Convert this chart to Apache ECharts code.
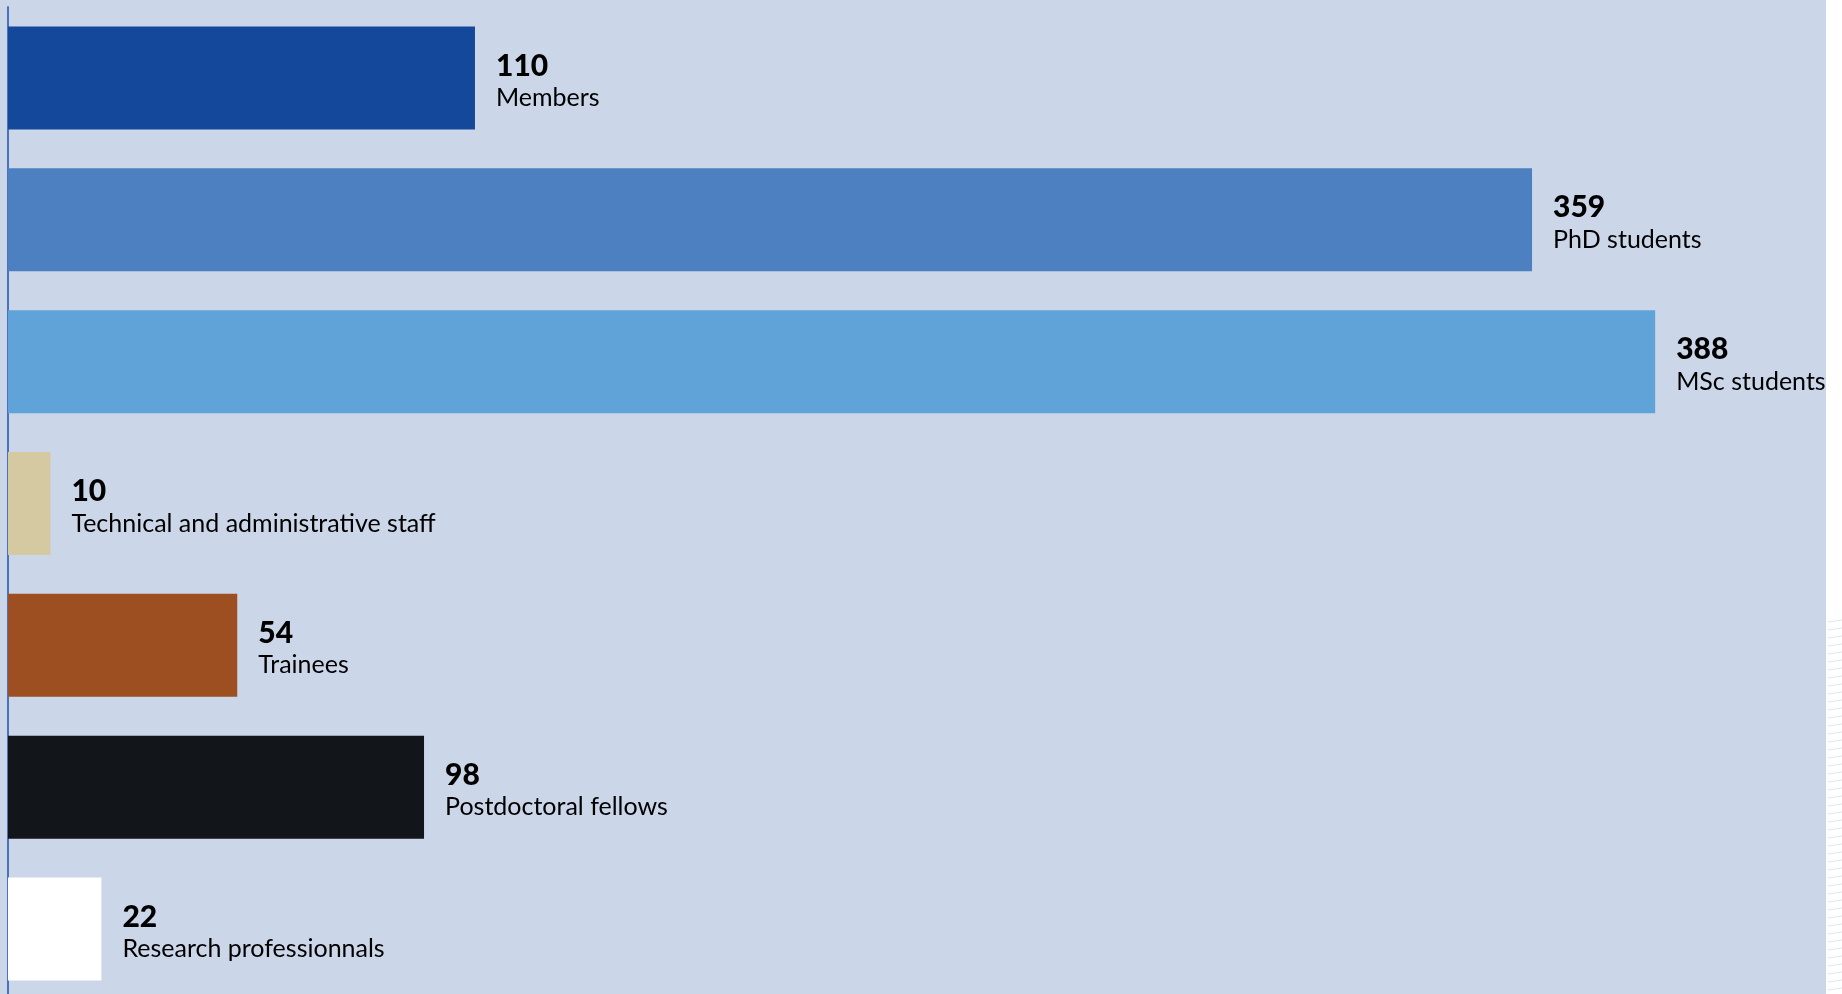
<!DOCTYPE html>
<html>
<head>
<meta charset="utf-8">
<style>
  html, body { margin: 0; padding: 0; background: #ffffff; }
  #chart { width: 1842px; height: 994px; }
</style>
<script src="https://cdn.jsdelivr.net/npm/echarts@6/dist/echarts.min.js"></script>
</head>
<body>
<div id="chart"></div>
<script>
var categories = ['Members', 'PhD students', 'MSc students', 'Technical and administrative staff',
  'Trainees', 'Postdoctoral fellows', 'Research professionnals'];
var counts = [110, 359, 388, 10, 54, 98, 22];
var barColors = ['#14489a', '#4c80c1', '#5fa3d9', '#d5c9a1', '#9e4f22', '#121519', '#ffffff'];

var chart = echarts.init(document.getElementById('chart'));

// faint hatch in the white strip on the right edge
var hatch = [];
for (var y = 622; y < 994; y += 8) {
  hatch.push({
    type: 'line',
    silent: true,
    shape: { x1: 1828, y1: y, x2: 1842, y2: y - 2 },
    style: { stroke: '#dfe5ee', lineWidth: 1 }
  });
}

var options = {
  backgroundColor: '#ffffff',
  animation: false,
  graphic: [
    {
      type: 'rect',
      z: -10,
      silent: true,
      shape: { x: 0, y: 0, width: 1826, height: 994 },
      style: { fill: '#cbd6e8' }
    }
  ].concat(hatch),
  grid: { left: 8, right: 51, top: 7, height: 993, outerBoundsMode: 'none' },
  xAxis: {
    type: 'value',
    min: 0,
    max: 420,
    show: false,
    splitLine: { show: false }
  },
  yAxis: {
    type: 'category',
    inverse: true,
    data: categories,
    axisLine: { show: true, lineStyle: { color: '#4a72b8', width: 2 } },
    axisTick: { show: false },
    axisLabel: { show: false }
  },
  series: [
    {
      type: 'bar',
      barWidth: 103,
      data: counts.map(function (v, i) {
        return { value: v, itemStyle: { color: barColors[i] } };
      }),
      label: {
        show: true,
        position: 'right',
        distance: 21,
        offset: [0, 4],
        formatter: function (p) {
          return '{v|' + p.value + '}\n{n|' + p.name + '}';
        },
        rich: {
          v: { fontFamily: 'Lato', fontSize: 30, fontWeight: 900, color: '#000000', lineHeight: 32 },
          n: { fontFamily: 'Lato', fontSize: 25, color: '#000000', lineHeight: 32 }
        }
      }
    }
  ]
};
chart.setOption(options);
</script>
</body>
</html>
